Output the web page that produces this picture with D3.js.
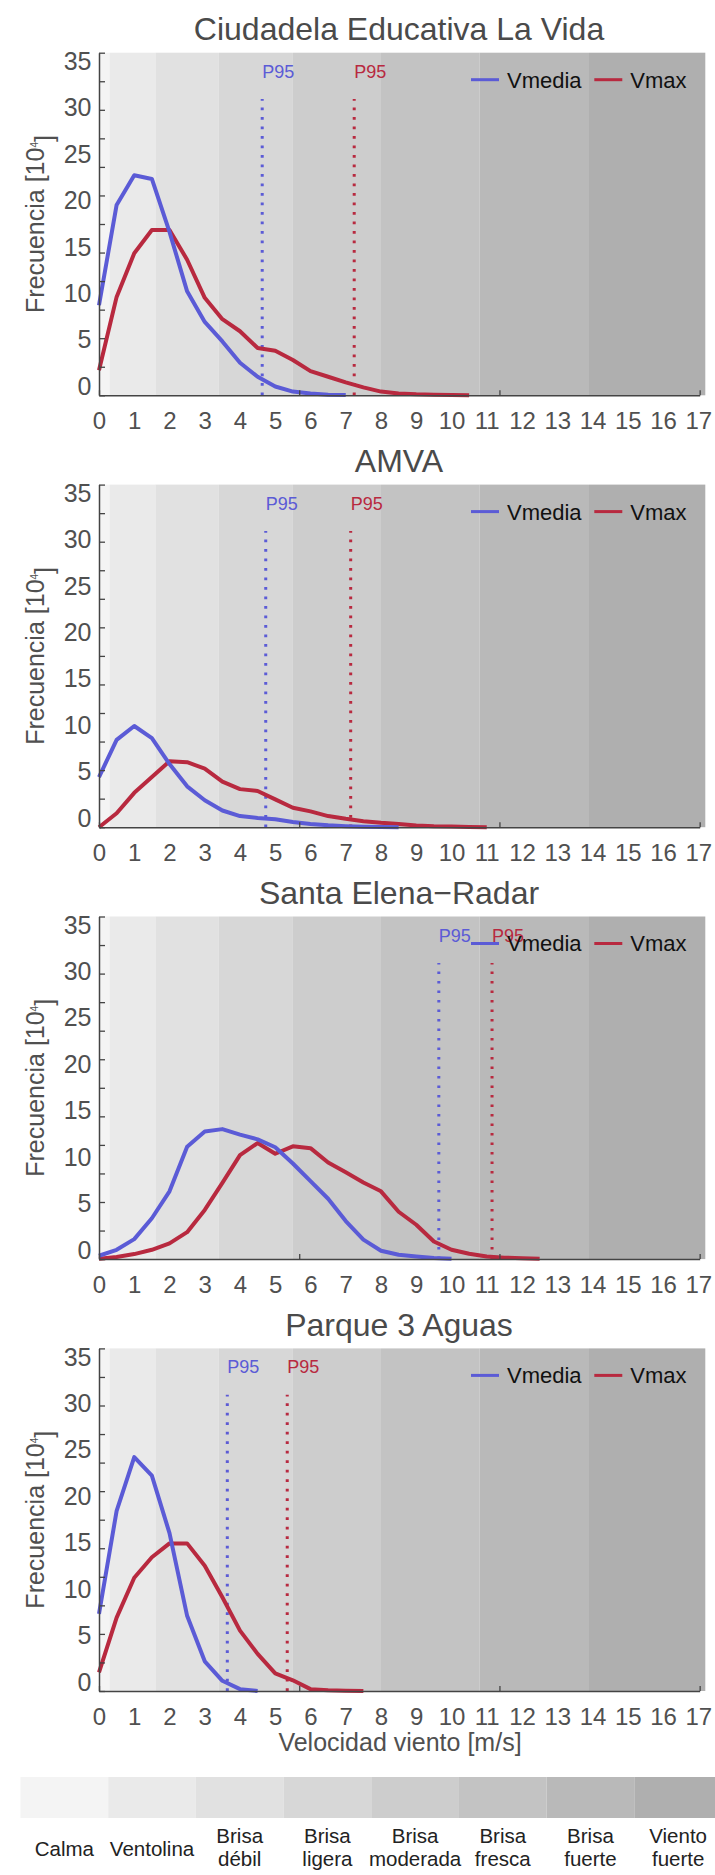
<!DOCTYPE html>
<html>
<head>
<meta charset="utf-8">
<script src="https://cdn.jsdelivr.net/npm/d3@7"></script>
<style>
  body { margin: 0; background: #fff; }
  text { font-family: "Liberation Sans", Arial, sans-serif; }
</style>
</head>
<body>
<svg id="chart" width="715" height="1875"></svg>
<script>
// wind speed bins (m/s)
const speedBins = [0, 0.5, 1, 1.5, 2, 2.5, 3, 3.5, 4, 4.5, 5, 5.5, 6, 6.5, 7, 7.5, 8, 8.5, 9, 9.5, 10, 10.5, 11, 11.5, 12, 12.5];

const stationNames = ["Ciudadela Educativa La Vida", "AMVA", "Santa Elena\u2212Radar", "Parque 3 Aguas"];

// frequency [10^4] per bin
const vmediaCiudadela = [9.7, 20.5, 23.7, 23.3, 17.6, 11.2, 7.9, 5.8, 3.5, 2.0, 0.95, 0.4, 0.2, 0.07, 0.03];
const vmaxCiudadela = [2.7, 10.6, 15.3, 17.8, 17.8, 14.6, 10.5, 8.2, 6.9, 5.1, 4.8, 3.8, 2.6, 2.0, 1.4, 0.85, 0.4, 0.2, 0.1, 0.05, 0.02, 0.0];
const vmediaAmva = [5.4, 9.4, 10.9, 9.6, 6.8, 4.4, 2.9, 1.8, 1.2, 1.0, 0.85, 0.55, 0.35, 0.2, 0.1, 0.04, 0.02, 0.0];
const vmaxAmva = [0.0, 1.5, 3.7, 5.4, 7.1, 7.0, 6.3, 4.9, 4.1, 3.9, 3.0, 2.1, 1.7, 1.2, 0.9, 0.65, 0.47, 0.35, 0.18, 0.1, 0.07, 0.02, 0.0];
const vmediaSantaElena = [0.36, 1.0, 2.15, 4.4, 7.3, 12.1, 13.75, 14.0, 13.4, 12.9, 12.05, 10.3, 8.4, 6.5, 4.1, 2.1, 0.9, 0.47, 0.29, 0.11, 0.04];
const vmaxSantaElena = [0.04, 0.22, 0.54, 1.0, 1.7, 2.9, 5.3, 8.2, 11.2, 12.5, 11.35, 12.15, 11.95, 10.4, 9.35, 8.25, 7.3, 5.1, 3.7, 1.9, 1.0, 0.57, 0.29, 0.15, 0.1, 0.04];
const vmediaParque = [8.3, 19.4, 25.2, 23.2, 17.0, 8.1, 3.2, 1.1, 0.2, 0.0];
const vmaxParque = [2.0, 7.9, 12.2, 14.4, 15.9, 15.9, 13.5, 10.1, 6.5, 4.0, 1.9, 1.15, 0.2, 0.07, 0.02, 0.0];

// 95th percentile (m/s)
const p95Media = [4.63, 4.73, 9.64, 3.64];
const p95Max = [7.24, 7.14, 11.15, 5.34];

// Beaufort scale
const beaufortNames = ["Calma", "Ventolina", "Brisa débil", "Brisa ligera", "Brisa moderada", "Brisa fresca", "Brisa fuerte", "Viento fuerte"];
const beaufortLimits = [0, 0.3, 1.6, 3.4, 5.5, 8.0, 10.8, 13.9, 17.2];
const bandColors = ["#f4f4f4", "#eaeaea", "#e1e1e1", "#d7d7d7", "#cdcdcd", "#c3c3c3", "#b9b9b9", "#afafaf"];

const yTickLabels = [0, 5, 10, 15, 20, 25, 30, 35];
const xTickLabels = [0, 1, 2, 3, 4, 5, 6, 7, 8, 9, 10, 11, 12, 13, 14, 15, 16, 17];
const xAxisEnd = 17.04;
const seriesNames = ["Vmedia", "Vmax"];

const stations = [
  { media: vmediaCiudadela, max: vmaxCiudadela },
  { media: vmediaAmva, max: vmaxAmva },
  { media: vmediaSantaElena, max: vmaxSantaElena },
  { media: vmediaParque, max: vmaxParque }
];

const colMedia = "#5b5bd6";
const colMax = "#b8293f";
const axisCol = "#444";
const textCol = "#505050";

const svg = d3.select("#chart");
const attr_area = { top: 52.7, panelStep: 431.9, plotHeight: 342.6 };

const scX = d3.scaleLinear().domain([0, 17.2]).range([99, 99 + 17.2 * 35.25]);
const scY = d3.scaleLinear().domain([0, 36.9]).range([attr_area.plotHeight, 0]);
const scYMinor = d3.scaleLinear().domain([0, 12]).range([attr_area.plotHeight, 0]);
const scXMinor = d3.scaleLinear().domain([0, 3]).range([scX(0), scX(xAxisEnd)]);

function drawPanel(i) {
  const st = stations[i];
  const g = svg.append("g")
    .attr("transform", `translate(0, ${attr_area.top + i * attr_area.panelStep})`);

  // background Beaufort bands
  g.selectAll(".band")
    .data(bandColors)
    .enter()
    .append("rect")
    .attr("x", (d, k) => scX(beaufortLimits[k]))
    .attr("y", 0)
    .attr("width", (d, k) => scX(beaufortLimits[k + 1]) - scX(beaufortLimits[k]))
    .attr("height", attr_area.plotHeight)
    .style("fill", d => d);

  // title
  g.append("text")
    .attr("x", 399)
    .attr("y", -12.4)
    .attr("text-anchor", "middle")
    .style("font-size", "32px")
    .style("fill", "#4a4a4a")
    .text(stationNames[i]);

  // P95 lines
  const p95 = [
    { v: p95Media[i], c: colMedia },
    { v: p95Max[i], c: colMax }
  ];
  p95.forEach(p => {
    g.append("line")
      .attr("x1", scX(p.v)).attr("x2", scX(p.v))
      .attr("y1", scY(0)).attr("y2", scY(31.9))
      .attr("stroke", p.c)
      .attr("stroke-width", 3)
      .attr("stroke-dasharray", "2.7 6.8");
    g.append("text")
      .attr("x", scX(p.v))
      .attr("y", scY(34.9))
      .attr("dy", "0.36em")
      .style("font-size", "18px")
      .style("fill", p.c)
      .text("P95");
  });

  // curves
  const lineGen = d3.line()
    .x((d, k) => scX(speedBins[k]))
    .y(d => scY(d));

  g.append("path")
    .datum(st.max)
    .attr("fill", "none")
    .attr("stroke", colMax)
    .attr("stroke-width", 4)
    .attr("stroke-linejoin", "round")
    .attr("d", lineGen);

  g.append("path")
    .datum(st.media)
    .attr("fill", "none")
    .attr("stroke", colMedia)
    .attr("stroke-width", 4)
    .attr("stroke-linejoin", "round")
    .attr("d", lineGen);

  // y axis: minor ticks pointing inward
  const yAxisG = g.append("g")
    .attr("transform", `translate(${scX(0)}, 0)`)
    .call(d3.axisRight(scYMinor).ticks(12).tickSize(6).tickSizeOuter(0).tickFormat(""));
  yAxisG.select(".domain").attr("stroke", axisCol).attr("stroke-width", 1.5);
  yAxisG.selectAll(".tick line").attr("stroke", axisCol).attr("stroke-width", 1.3);

  // y tick labels
  const yLab = g.append("g")
    .attr("transform", `translate(${scX(0)}, 0)`)
    .call(d3.axisLeft(scY).tickValues(yTickLabels).tickSize(0).tickPadding(7.5));
  yLab.select(".domain").remove();
  yLab.selectAll("text")
    .attr("transform", "translate(0,-9)")
    .style("font-size", "25px")
    .style("font-family", "'Liberation Sans', Arial, sans-serif")
    .style("fill", textCol);

  // x axis line with minor ticks
  const xAxisG = g.append("g")
    .attr("transform", `translate(0, ${attr_area.plotHeight})`)
    .call(d3.axisBottom(scXMinor).ticks(3).tickSizeInner(-5).tickSizeOuter(0).tickFormat(""));
  xAxisG.select(".domain").attr("stroke", axisCol).attr("stroke-width", 1.5);
  xAxisG.selectAll(".tick line").attr("stroke", axisCol).attr("stroke-width", 1.3);

  // x tick labels
  const xLab = g.append("g")
    .attr("transform", `translate(0, ${attr_area.plotHeight})`)
    .call(d3.axisBottom(scX).tickValues(xTickLabels).tickSize(0).tickPadding(16.5).tickFormat(d3.format("d")));
  xLab.select(".domain").remove();
  xLab.selectAll("text")
    .style("font-size", "24px")
    .style("font-family", "'Liberation Sans', Arial, sans-serif")
    .style("fill", textCol);

  // y axis title
  const yt = g.append("text")
    .attr("transform", `translate(35, ${attr_area.plotHeight / 2}) rotate(-90)`)
    .attr("text-anchor", "middle")
    .attr("dy", "0.36em")
    .style("font-size", "25px")
    .style("fill", textCol);
  yt.append("tspan").text("Frecuencia [10");
  yt.append("tspan").attr("dy", "-0.6em").style("font-size", "10px").text("4");
  yt.append("tspan").attr("dy", "0.6em").text("]");

  // legend
  const legendItems = [
    { name: seriesNames[0], c: colMedia, x0: 471 },
    { name: seriesNames[1], c: colMax, x0: 594.3 }
  ];
  legendItems.forEach(it => {
    g.append("line")
      .attr("x1", it.x0).attr("x2", it.x0 + 28)
      .attr("y1", 27).attr("y2", 27)
      .attr("stroke", it.c)
      .attr("stroke-width", 3);
    g.append("text")
      .attr("x", it.x0 + 36)
      .attr("y", 27)
      .attr("dy", "0.36em")
      .style("font-size", "22px")
      .style("fill", "#111")
      .text(it.name);
  });
}

for (let i = 0; i < stations.length; i++) drawPanel(i);

// x axis title
svg.append("text")
  .attr("x", 400)
  .attr("y", 1750.6)
  .attr("text-anchor", "middle")
  .style("font-size", "25px")
  .style("fill", textCol)
  .text("Velocidad viento [m/s]");

// Beaufort legend bar
const scBand = d3.scaleBand().domain(beaufortNames).range([20.5, 722]);

svg.selectAll(".bf")
  .data(beaufortNames)
  .enter()
  .append("rect")
  .attr("x", d => scBand(d))
  .attr("y", 1777)
  .attr("width", scBand.bandwidth())
  .attr("height", 41)
  .style("fill", (d, k) => bandColors[k]);

beaufortNames.forEach(name => {
  const words = name.split(" ");
  const cx = scBand(name) + scBand.bandwidth() / 2;
  const t = svg.append("text")
    .attr("text-anchor", "middle")
    .style("font-size", "20.5px")
    .style("fill", "#222");
  if (words.length === 1) {
    t.attr("x", cx).attr("y", 1856).text(name);
  } else {
    t.append("tspan").attr("x", cx).attr("y", 1843).text(words[0]);
    t.append("tspan").attr("x", cx).attr("y", 1866).text(words.slice(1).join(" "));
  }
});
</script>
</body>
</html>
